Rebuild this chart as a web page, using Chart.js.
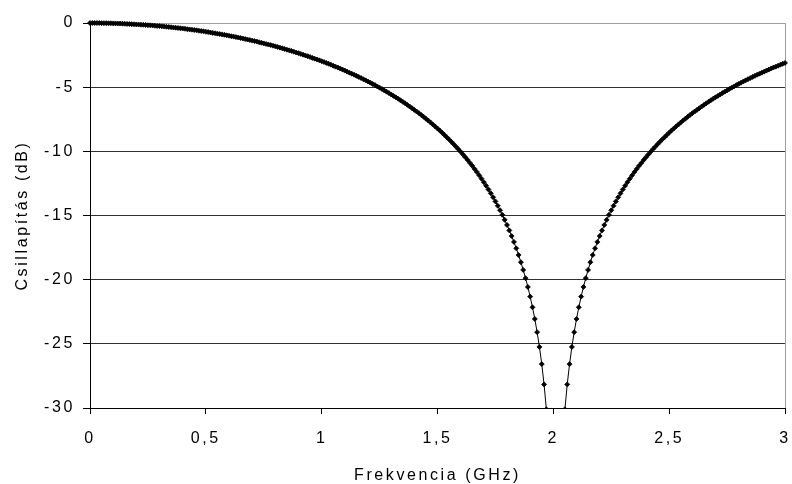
<!DOCTYPE html>
<html>
<head>
<meta charset="utf-8">
<script src="https://cdn.jsdelivr.net/npm/chart.js@4/dist/chart.umd.min.js"></script>
<style>
html,body{margin:0;padding:0;background:#fff;}
canvas{display:block;}
</style>
</head>
<body>
<canvas id="c" width="792" height="484"></canvas>
<script>
// Frequency points (GHz)
const freqGHz = [
0,0.01,0.02,0.03,0.04,0.05,0.06,0.07,0.08,0.09,
0.1,0.11,0.12,0.13,0.14,0.15,0.16,0.17,0.18,0.19,
0.2,0.21,0.22,0.23,0.24,0.25,0.26,0.27,0.28,0.29,
0.3,0.31,0.32,0.33,0.34,0.35,0.36,0.37,0.38,0.39,
0.4,0.41,0.42,0.43,0.44,0.45,0.46,0.47,0.48,0.49,
0.5,0.51,0.52,0.53,0.54,0.55,0.56,0.57,0.58,0.59,
0.6,0.61,0.62,0.63,0.64,0.65,0.66,0.67,0.68,0.69,
0.7,0.71,0.72,0.73,0.74,0.75,0.76,0.77,0.78,0.79,
0.8,0.81,0.82,0.83,0.84,0.85,0.86,0.87,0.88,0.89,
0.9,0.91,0.92,0.93,0.94,0.95,0.96,0.97,0.98,0.99,
1,1.01,1.02,1.03,1.04,1.05,1.06,1.07,1.08,1.09,
1.1,1.11,1.12,1.13,1.14,1.15,1.16,1.17,1.18,1.19,
1.2,1.21,1.22,1.23,1.24,1.25,1.26,1.27,1.28,1.29,
1.3,1.31,1.32,1.33,1.34,1.35,1.36,1.37,1.38,1.39,
1.4,1.41,1.42,1.43,1.44,1.45,1.46,1.47,1.48,1.49,
1.5,1.51,1.52,1.53,1.54,1.55,1.56,1.57,1.58,1.59,
1.6,1.61,1.62,1.63,1.64,1.65,1.66,1.67,1.68,1.69,
1.7,1.71,1.72,1.73,1.74,1.75,1.76,1.77,1.78,1.79,
1.8,1.81,1.82,1.83,1.84,1.85,1.86,1.87,1.88,1.89,
1.9,1.91,1.92,1.93,1.94,1.95,1.96,1.97,1.98,1.99,
2,2.01,2.02,2.03,2.04,2.05,2.06,2.07,2.08,2.09,
2.1,2.11,2.12,2.13,2.14,2.15,2.16,2.17,2.18,2.19,
2.2,2.21,2.22,2.23,2.24,2.25,2.26,2.27,2.28,2.29,
2.3,2.31,2.32,2.33,2.34,2.35,2.36,2.37,2.38,2.39,
2.4,2.41,2.42,2.43,2.44,2.45,2.46,2.47,2.48,2.49,
2.5,2.51,2.52,2.53,2.54,2.55,2.56,2.57,2.58,2.59,
2.6,2.61,2.62,2.63,2.64,2.65,2.66,2.67,2.68,2.69,
2.7,2.71,2.72,2.73,2.74,2.75,2.76,2.77,2.78,2.79,
2.8,2.81,2.82,2.83,2.84,2.85,2.86,2.87,2.88,2.89,
2.9,2.91,2.92,2.93,2.94,2.95,2.96,2.97,2.98,2.99,
3
];

// Attenuation (dB)
const attenuationDb = [
0,0,0,0,0,-0.01,-0.01,-0.01,-0.02,-0.02,
-0.03,-0.03,-0.04,-0.04,-0.05,-0.06,-0.07,-0.08,-0.09,-0.10,
-0.11,-0.12,-0.13,-0.14,-0.15,-0.17,-0.18,-0.19,-0.21,-0.23,
-0.24,-0.26,-0.27,-0.29,-0.31,-0.33,-0.35,-0.37,-0.39,-0.41,
-0.43,-0.45,-0.48,-0.50,-0.52,-0.55,-0.57,-0.60,-0.63,-0.65,
-0.68,-0.71,-0.74,-0.77,-0.80,-0.83,-0.86,-0.89,-0.92,-0.96,
-0.99,-1.03,-1.06,-1.10,-1.13,-1.17,-1.21,-1.25,-1.29,-1.33,
-1.37,-1.41,-1.45,-1.50,-1.54,-1.59,-1.63,-1.68,-1.72,-1.77,
-1.82,-1.87,-1.92,-1.97,-2.02,-2.08,-2.13,-2.18,-2.24,-2.30,
-2.35,-2.41,-2.47,-2.53,-2.59,-2.65,-2.72,-2.78,-2.84,-2.91,
-2.98,-3.04,-3.11,-3.18,-3.25,-3.33,-3.40,-3.47,-3.55,-3.63,
-3.71,-3.79,-3.87,-3.95,-4.03,-4.12,-4.20,-4.29,-4.38,-4.47,
-4.56,-4.65,-4.75,-4.84,-4.94,-5.04,-5.14,-5.25,-5.35,-5.46,
-5.57,-5.68,-5.79,-5.90,-6.02,-6.14,-6.26,-6.38,-6.51,-6.64,
-6.77,-6.90,-7.03,-7.17,-7.31,-7.46,-7.60,-7.75,-7.91,-8.06,
-8.22,-8.38,-8.55,-8.72,-8.90,-9.07,-9.26,-9.44,-9.64,-9.83,
-10.04,-10.24,-10.46,-10.67,-10.90,-11.13,-11.37,-11.61,-11.87,-12.13,
-12.40,-12.68,-12.97,-13.27,-13.58,-13.90,-14.24,-14.59,-14.95,-15.34,
-15.74,-16.16,-16.60,-17.06,-17.56,-18.08,-18.64,-19.24,-19.88,-20.57,
-21.32,-22.15,-23.06,-24.09,-25.24,-26.58,-28.16,-30.10,-32.60,-36.12,
-42.14,-60,-42.14,-36.12,-32.60,-30.10,-28.16,-26.58,-25.24,-24.09,
-23.06,-22.15,-21.32,-20.57,-19.88,-19.24,-18.64,-18.08,-17.56,-17.06,
-16.60,-16.16,-15.74,-15.34,-14.95,-14.59,-14.24,-13.90,-13.58,-13.27,
-12.97,-12.68,-12.40,-12.13,-11.87,-11.61,-11.37,-11.13,-10.90,-10.67,
-10.46,-10.24,-10.04,-9.83,-9.64,-9.44,-9.26,-9.07,-8.90,-8.72,
-8.55,-8.38,-8.22,-8.06,-7.91,-7.75,-7.60,-7.46,-7.31,-7.17,
-7.03,-6.90,-6.77,-6.64,-6.51,-6.38,-6.26,-6.14,-6.02,-5.90,
-5.79,-5.68,-5.57,-5.46,-5.35,-5.25,-5.14,-5.04,-4.94,-4.84,
-4.75,-4.65,-4.56,-4.47,-4.38,-4.29,-4.20,-4.12,-4.03,-3.95,
-3.87,-3.79,-3.71,-3.63,-3.55,-3.47,-3.40,-3.33,-3.25,-3.18,
-3.11
];

const xTickValues = [0, 0.5, 1, 1.5, 2, 2.5, 3];
const xTickLabels = ['0', '0,5', '1', '1,5', '2', '2,5', '3'];
const yTickValues = [0, -5, -10, -15, -20, -25, -30];
const yTickLabels = ['0', '-5', '-10', '-15', '-20', '-25', '-30'];

const xTitle = 'Frekvencia (GHz)';
const yTitle = 'Csillapítás (dB)';

const FONT_FAMILY = 'Arial, "Liberation Sans", sans-serif';
const tickFont = { family: FONT_FAMILY, size: 16 };
const titleFont = { family: FONT_FAMILY, size: 16, lineHeight: 1 };

const points = freqGHz.map((f, i) => ({ x: f, y: attenuationDb[i] }));

const framePlugin = {
  id: 'frame',
  beforeDraw(chart) {
    chart.ctx.letterSpacing = '2.6px';
  },
  beforeDatasetsDraw(chart) {
    const { ctx, chartArea: a } = chart;
    ctx.save();
    ctx.strokeStyle = '#a0a0a0';
    ctx.lineWidth = 1;
    const rx = Math.round(a.right) + 0.5;
    ctx.beginPath();
    ctx.moveTo(rx, a.top);
    ctx.lineTo(rx, a.bottom);
    ctx.stroke();
    ctx.restore();
  }
};

new Chart(document.getElementById('c'), {
  type: 'scatter',
  data: {
    datasets: [{
      data: points,
      showLine: true,
      borderColor: '#000',
      borderWidth: 1,
      tension: 0,
      pointStyle: 'rectRot',
      pointRadius: 2.5,
      pointBorderWidth: 0.8,
      pointBackgroundColor: '#000',
      pointBorderColor: '#000',
      clip: { left: 6, top: 6, right: 6, bottom: 0 }
    }]
  },
  options: {
    responsive: false,
    animation: false,
    devicePixelRatio: 1,
    layout: { padding: { top: 23, right: 7, bottom: 0, left: 0 } },
    plugins: {
      legend: { display: false },
      tooltip: { enabled: false }
    },
    scales: {
      x: {
        type: 'linear',
        min: 0,
        max: 3,
        afterBuildTicks: s => { s.ticks = xTickValues.map(v => ({ value: v })); },
        afterFit: s => { s.height = 76; s.paddingLeft = 0; s.paddingRight = 0; },
        ticks: {
          font: tickFont,
          color: '#000',
          padding: 15,
          maxRotation: 0,
          autoSkip: false,
          callback: (v, i) => xTickLabels[i]
        },
        grid: {
          drawOnChartArea: false,
          drawTicks: true,
          tickLength: 6,
          color: '#000',
          tickColor: '#000',
          lineWidth: 1
        },
        border: { color: '#000', width: 1 },
        title: {
          display: true,
          text: xTitle,
          font: titleFont,
          color: '#000',
          padding: { top: 0, bottom: 0 }
        }
      },
      y: {
        type: 'linear',
        min: -30,
        max: 0,
        afterBuildTicks: s => { s.ticks = yTickValues.map(v => ({ value: v })); },
        afterFit: s => { s.width = 90; s.paddingTop = 0; s.paddingBottom = 0; },
        ticks: {
          font: tickFont,
          color: '#000',
          padding: 8,
          autoSkip: false,
          callback: (v, i) => yTickLabels[i]
        },
        grid: {
          drawOnChartArea: true,
          drawTicks: true,
          tickLength: 7,
          color: c => (c.tick && c.tick.value === 0) ? '#a0a0a0' : '#303030',
          tickColor: '#000',
          lineWidth: 1
        },
        border: { color: '#000', width: 1 },
        title: {
          display: true,
          text: yTitle,
          font: titleFont,
          color: '#000',
          padding: { top: 15, bottom: 0 }
        }
      }
    }
  },
  plugins: [framePlugin]
});
</script>
</body>
</html>
